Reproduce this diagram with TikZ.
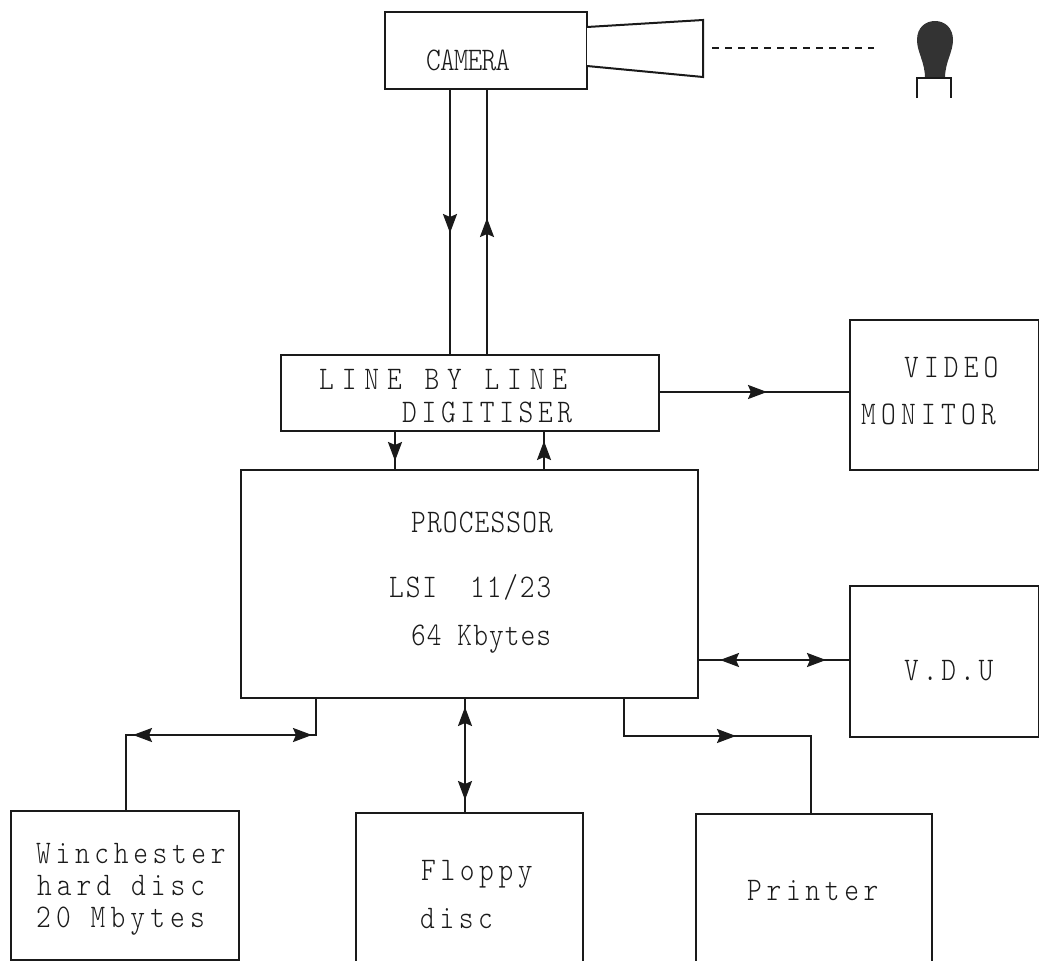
\documentclass[tikz,border=0pt]{standalone}
\usepackage{fontspec}
\setmonofont[FakeStretch=0.85]{Latin Modern Mono Light}
\usetikzlibrary{arrows.meta,decorations.markings}
\definecolor{scanink}{HTML}{1A1A1A}
\definecolor{scanfill}{HTML}{333333}
\tikzset{
  bx/.style={draw=scanink, line width=2pt, fill=white, inner sep=0pt},
  lbl/.style={anchor=base west, inner sep=0pt, color=scanink, font=\fontsize{33}{33}\selectfont\ttfamily},
  wire/.style={draw=scanink, line width=2pt},
  fwd/.style={postaction={decorate}, decoration={markings, mark=at position #1 with {\arrow[scanink]{Stealth[length=19pt, width=14pt, inset=3pt]}}}},
  bwd/.style={postaction={decorate}, decoration={markings, mark=at position #1 with {\arrowreversed[scanink]{Stealth[length=19pt, width=14pt, inset=3pt]}}}},
  fwdbwd/.style 2 args={postaction={decorate}, decoration={markings, mark=at position #1 with {\arrowreversed[scanink]{Stealth[length=19pt, width=14pt, inset=3pt]}}, mark=at position #2 with {\arrow[scanink]{Stealth[length=19pt, width=14pt, inset=3pt]}}}},
}
\begin{document}
\begin{tikzpicture}[x=1pt, y=-1pt]
  \useasboundingbox (0,0) rectangle (1039,961);
  \clip (0,0) rectangle (1039,961);
  \fill[white] (0,0) rectangle (1039,961);
  % boxes, centre and size
  \foreach \nm/\cx/\cy/\bw/\bh in {camera/486/50.5/202/77, digit/470/393/378/76, proc/469.5/584/457/228, monitor/944.5/395/189/150, vdu/944.5/661.5/189/151, winch/125/885.5/228/149, floppy/469.5/900/227/174, printer/814/900/236/172} {
    \node[bx, minimum width=\bw pt, minimum height=\bh pt] (\nm) at (\cx,\cy) {};
  }
  % labels, last field is the letter spacing
  \foreach \nm/\tx/\lx/\ly/\ls in {cameratxt/CAMERA/426/70/-2.7, line/{LINE BY LINE}/319/389/24, digittxt/DIGITISER/402/422/14.2, proctxt/PROCESSOR/411/532/3.5, lsi/{LSI\ \ 11/23}/389/597/5.6, kbytes/{64 Kbytes}/411/645/3.2, video/VIDEO/904/377/15.6, monitortxt/MONITOR/861/424/16, vdutxt/V.D.U/904/680/11.8, winchtxt/Winchester/36/863/14.2, hard/{hard disc}/37/895/15.3, mbytes/{20 Mbytes}/36/927/15.6, floppytxt/Floppy/421/880/14, disc/disc/420/928/14, printertxt/Printer/747/900/14.2} {
    \node[lbl] (\nm) at (\lx,\ly) {\addfontfeatures{LetterSpace=\ls}\tx};
  }
  % lens and subject
  \coordinate (lensa) at (587,27);
  \coordinate (lensb) at (587,66);
  \draw[wire, fill=white] (lensa) -- (703,20) -- (703,77) -- (lensb);
  \coordinate (rayend) at (874,48);
  \draw[wire, dash pattern=on 7pt off 6pt] (712,48) -- (rayend);
  \fill[scanfill] (925,78) .. controls (925,62) and (917,52) .. (917,40) .. controls (917,27) and (926,21) .. (935,21) .. controls (945,21) and (953,28) .. (953,40) .. controls (953,52) and (945,62) .. (945,78) -- cycle;
  \draw[wire] (917,98) -- (917,78) -- (951,78) -- (951,98);
  % connectors
  \draw[wire, fwd=143pt] (450,0 |- camera.south) -- (450,0 |- digit.north);
  \draw[wire, bwd=128pt] (487,0 |- camera.south) -- (487,0 |- digit.north);
  \draw[wire, fwd=29pt] (395,0 |- digit.south) -- (395,0 |- proc.north);
  \draw[wire, bwd=9pt] (544,0 |- digit.south) -- (544,0 |- proc.north);
  \draw[wire, fwd=107pt] (digit.east |- 0,392) -- (monitor.west |- 0,392);
  \draw[wire, fwdbwd={21pt}{127pt}] (proc.east |- 0,660) -- (vdu.west |- 0,660);
  \coordinate (winchbend) at (316,735);
  \coordinate (winchdrop) at (126,735);
  \draw[wire, fwdbwd={40pt}{219pt}] (316,0 |- proc.south) -- (winchbend) -- (winchdrop) -- (126,0 |- winch.north);
  \draw[wire, fwdbwd={12pt}{105pt}] (465,0 |- floppy.north) -- (465,0 |- proc.south);
  \coordinate (printbend) at (624,736);
  \coordinate (printdrop) at (811,736);
  \draw[wire, fwd=149pt] (624,0 |- proc.south) -- (printbend) -- (printdrop) -- (811,0 |- printer.north);
\end{tikzpicture}
\end{document}
